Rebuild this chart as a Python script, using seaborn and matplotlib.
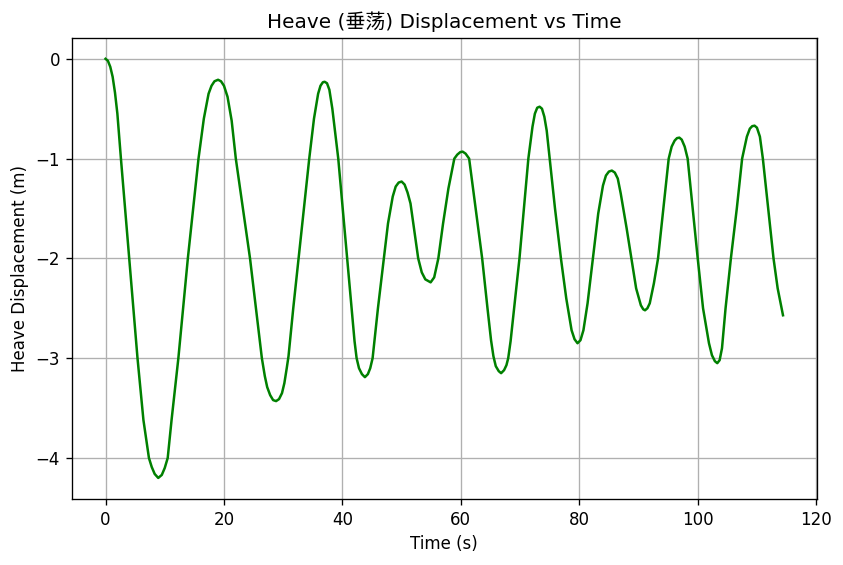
import matplotlib
matplotlib.use("Agg")
import matplotlib.pyplot as plt
import seaborn as sns
import pandas as pd

# points (time in s, heave in m)
time_s = [
    0.0, 0.4, 0.8, 1.2, 1.6, 2.0, 2.6, 3.3, 4.0, 4.7, 5.4, 6.4, 7.33, 7.8,
    8.3, 8.9, 9.5, 10.0, 10.5, 11.15, 12.3, 13.1, 13.9, 14.8, 15.7, 16.6,
    17.4, 17.9, 18.4, 19.0, 19.5, 20.0, 20.6, 21.3, 22.0, 23.2, 24.4, 25.4,
    26.4, 26.9, 27.3, 27.8, 28.3, 28.8, 29.3, 29.8, 30.2, 30.6, 30.9, 31.7,
    32.6, 33.5, 34.4, 35.2, 35.9, 36.3, 36.7, 37.0, 37.4, 37.8, 38.3, 39.3,
    40.05, 40.8, 41.55, 42.05, 42.4, 42.8, 43.3, 43.8, 44.3, 44.7, 45.1,
    46.0, 47.0, 47.7, 48.5, 49.0, 49.5, 50.0, 50.5, 51.0, 51.5, 52.2, 52.8,
    53.4, 54.0, 54.9, 55.5, 56.2, 57.0, 57.9, 58.9, 59.4, 59.9, 60.3, 60.8,
    61.4, 62.5, 63.6, 64.5, 65.1, 65.5, 65.9, 66.4, 66.8, 67.3, 67.7, 68.0,
    68.4, 69.0, 69.9, 70.65, 71.4, 72.1, 72.5, 72.9, 73.3, 73.7, 74.1, 74.5,
    75.0, 75.9, 76.9, 77.8, 78.7, 79.2, 79.7, 80.2, 80.7, 81.4, 82.3, 83.2,
    84.0, 84.5, 85.0, 85.5, 86.0, 86.5, 87.0, 88.0, 88.8, 89.6, 90.4, 90.8,
    91.1, 91.5, 91.9, 92.6, 93.3, 94.2, 95.1, 95.6, 96.1, 96.5, 96.9, 97.3,
    97.8, 98.3, 99.15, 100.0, 100.9, 101.9, 102.4, 102.9, 103.3, 103.7,
    104.1, 104.7, 105.6, 106.6, 107.5, 108.3, 108.8, 109.2, 109.6, 110.0,
    110.5, 111.0, 111.9, 112.8, 113.5, 114.4,
]
heave_m = [
    0.00, -0.02, -0.08, -0.18, -0.34, -0.55, -1.00, -1.50, -2.00, -2.50,
    -3.00, -3.62, -4.00, -4.09, -4.16, -4.20, -4.17, -4.10, -4.00, -3.62,
    -3.00, -2.50, -2.00, -1.50, -1.00, -0.60, -0.35, -0.27, -0.225, -0.21,
    -0.225, -0.27, -0.38, -0.62, -1.00, -1.50, -2.00, -2.50, -3.00, -3.18,
    -3.29, -3.37, -3.42, -3.43, -3.41, -3.35, -3.25, -3.10, -2.98, -2.50,
    -2.00, -1.50, -1.00, -0.60, -0.35, -0.27, -0.235, -0.23, -0.245, -0.31,
    -0.50, -1.00, -1.50, -2.00, -2.50, -2.83, -3.00, -3.10, -3.16, -3.19,
    -3.16, -3.10, -3.00, -2.50, -2.00, -1.65, -1.38, -1.28, -1.24, -1.23,
    -1.26, -1.34, -1.45, -1.75, -2.00, -2.14, -2.21, -2.24, -2.19, -2.00,
    -1.65, -1.30, -1.00, -0.96, -0.935, -0.93, -0.95, -1.00, -1.50, -2.00,
    -2.50, -2.82, -2.98, -3.08, -3.13, -3.15, -3.12, -3.07, -3.00, -2.83,
    -2.50, -2.00, -1.50, -1.00, -0.68, -0.55, -0.49, -0.48, -0.50, -0.58,
    -0.72, -1.00, -1.50, -2.00, -2.40, -2.72, -2.81, -2.85, -2.82, -2.72,
    -2.45, -2.00, -1.55, -1.27, -1.17, -1.13, -1.12, -1.14, -1.20, -1.35,
    -1.70, -2.00, -2.30, -2.47, -2.51, -2.52, -2.50, -2.45, -2.25, -2.00,
    -1.50, -1.00, -0.88, -0.82, -0.795, -0.79, -0.81, -0.88, -1.00, -1.50,
    -2.00, -2.50, -2.85, -2.97, -3.03, -3.05, -3.02, -2.90, -2.50, -2.00,
    -1.50, -1.00, -0.78, -0.70, -0.675, -0.67, -0.69, -0.78, -1.00, -1.50,
    -2.00, -2.30, -2.57,
]

df = pd.DataFrame({"Time (s)": time_s, "Heave Displacement (m)": heave_m})

fig, ax = plt.subplots(figsize=(843 / 120, 565 / 120), dpi=120)
sns.lineplot(data=df, x="Time (s)", y="Heave Displacement (m)", color="green",
             linewidth=1.5, ax=ax)
ax.grid(True)
ax.set_title("Heave (垂荡) Displacement vs Time", family=["DejaVu Sans", "Noto Sans CJK SC"])
ax.set_xlabel("Time (s)")
ax.set_ylabel("Heave Displacement (m)")
fig.subplots_adjust(left=0.085, right=0.969, top=0.933, bottom=0.117)
fig.savefig("out.png")
